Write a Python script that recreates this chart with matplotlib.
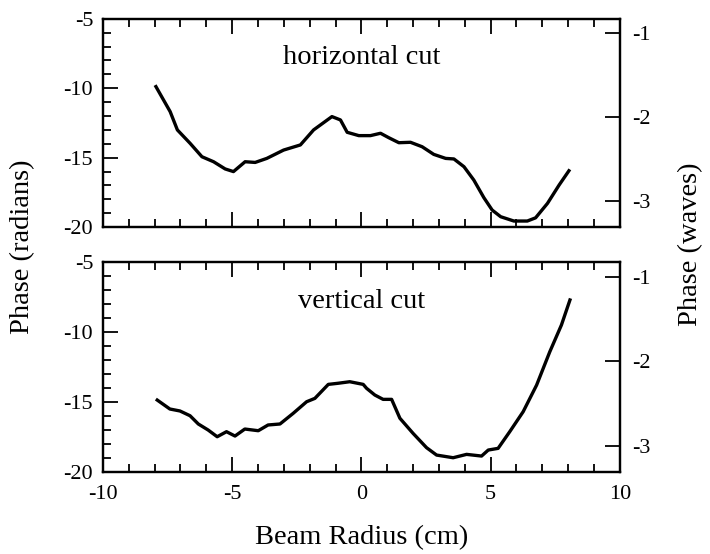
import numpy as np
import matplotlib
matplotlib.use('Agg')
import matplotlib.pyplot as plt
from matplotlib.ticker import MultipleLocator

plt.rcParams['font.family'] = ['Liberation Serif', 'DejaVu Serif']
plt.rcParams['axes.unicode_minus'] = False

# horizontal cut (beam radius cm, phase rad)
h_x = [-7.95, -7.40, -7.12, -6.63, -6.17, -5.72, -5.27, -4.95, -4.50, -4.11, -3.66,
       -3.01, -2.36, -1.85, -1.14, -0.81, -0.55, -0.10, 0.35, 0.74, 1.06, 1.45, 1.90,
       2.35, 2.80, 3.26, 3.58, 3.97, 4.35, 4.74, 5.06, 5.39, 5.90, 6.42, 6.74, 7.20,
       7.65, 8.03]
h_phase = [-9.88, -11.68, -13.0, -13.96, -14.93, -15.29, -15.81, -16.0, -15.29, -15.34,
           -15.05, -14.45, -14.08, -13.0, -12.04, -12.28, -13.17, -13.41, -13.41, -13.24,
           -13.56, -13.92, -13.89, -14.21, -14.76, -15.05, -15.09, -15.65, -16.61, -17.88,
           -18.77, -19.25, -19.56, -19.56, -19.33, -18.29, -16.97, -15.94]

# vertical cut
v_x = [-7.90, -7.41, -7.02, -6.63, -6.31, -5.93, -5.58, -5.22, -4.89, -4.51, -3.99,
       -3.61, -3.15, -2.64, -2.12, -1.80, -1.28, -0.90, -0.45, 0.07, 0.20, 0.52, 0.84,
       1.17, 1.49, 2.0, 2.52, 2.91, 3.55, 4.07, 4.65, 4.91, 5.29, 5.74, 6.26, 6.78,
       7.29, 7.74, 8.07]
v_phase = [-14.86, -15.5, -15.64, -15.98, -16.57, -17.0, -17.48, -17.12, -17.43, -16.93,
           -17.05, -16.64, -16.57, -15.81, -14.98, -14.74, -13.74, -13.66, -13.55, -13.74,
           -14.02, -14.5, -14.81, -14.81, -16.16, -17.24, -18.26, -18.79, -18.98, -18.74,
           -18.86, -18.43, -18.31, -17.12, -15.69, -13.79, -11.41, -9.5, -7.71]

rad_per_wave = 6.05  # scale of right axis as drawn
panels = [(h_x, h_phase, 'horizontal cut'), (v_x, v_phase, 'vertical cut')]

fig = plt.figure(figsize=(7.1, 5.54), dpi=100)
boxes = [[0.145, 0.590, 0.728, 0.376], [0.145, 0.148, 0.728, 0.379]]

for (x, y, name), box in zip(panels, boxes):
    ax = fig.add_axes(box)
    ax.plot(x, y, color='black', linewidth=2.4)
    ax.set_xlim(-10, 10)
    ax.set_ylim(-20, -5)
    ax.xaxis.set_major_locator(MultipleLocator(5))
    ax.xaxis.set_minor_locator(MultipleLocator(1))
    ax.yaxis.set_major_locator(MultipleLocator(5))
    ax.yaxis.set_minor_locator(MultipleLocator(1))
    ax.tick_params(which='both', direction='in', top=True, right=False, width=1.3,
                   labelsize=16, pad=7)
    ax.tick_params(axis='x', pad=9)
    ax.tick_params(which='major', length=11)
    ax.tick_params(which='minor', length=6)
    for s in ax.spines.values():
        s.set_linewidth(1.6)
    ax.text(0, -7.8, name, ha='center', va='center', fontsize=20.5)

    ax2 = ax.twinx()
    ax2.set_ylim(-20 / rad_per_wave, -5 / rad_per_wave)
    ax2.yaxis.set_major_locator(MultipleLocator(1))
    ax2.tick_params(direction='in', length=11, width=1.3, labelsize=16, pad=9)
    for s in ax2.spines.values():
        s.set_linewidth(1.6)

    if name == 'horizontal cut':
        ax.tick_params(labelbottom=False)

fig.text(0.509, 0.030, 'Beam Radius (cm)', ha='center', va='center', fontsize=20.5)
fig.text(0.032, 0.555, 'Phase (radians)', ha='center', va='center', rotation=90, fontsize=20.5)
fig.text(0.972, 0.560, 'Phase (waves)', ha='center', va='center', rotation=90, fontsize=20.5)

plt.savefig('out.png', dpi=100)
